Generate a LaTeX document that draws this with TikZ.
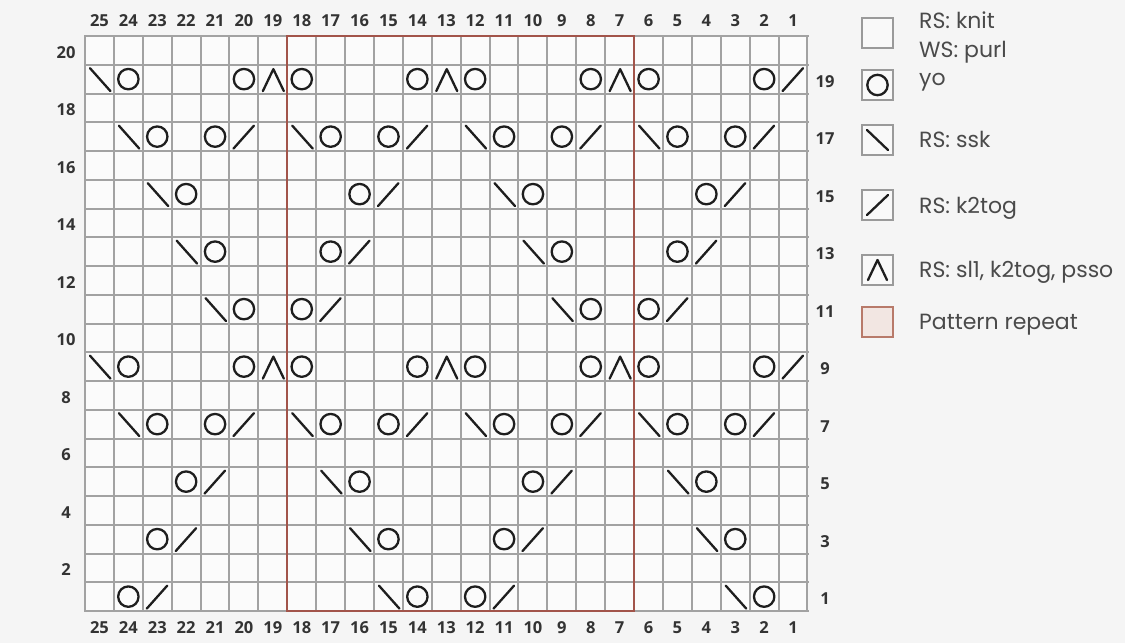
\documentclass[tikz,border=0pt]{standalone}
\usepackage{fontspec}
\setmainfont{Poppins}
\newfontfamily\numfont{Open Sans}
\definecolor{bg}{HTML}{F5F5F5}
\definecolor{gridc}{HTML}{A2A2A2}
\definecolor{symc}{HTML}{1E1E1E}
\definecolor{numc}{HTML}{333333}
\definecolor{repc}{HTML}{A2544A}
\definecolor{legc}{HTML}{9A9A9A}
\definecolor{legrep}{HTML}{B87A6A}
\definecolor{legrepfill}{HTML}{F2E6E2}
\definecolor{txtc}{HTML}{4A4A4A}
\tikzset{
  gridline/.style={draw=gridc, line width=2pt},
  symline/.style={draw=symc, line width=2.3pt, line cap=round, line join=round},
  numlab/.style={text=numc, font=\numfont\bfseries\fontsize{16.5}{16.5}\selectfont, inner sep=0pt},
  legtext/.style={text=txtc, font=\fontsize{22}{22}\selectfont, anchor=base west, inner sep=0pt},
  legbox/.style={draw=legc, line width=1.6pt, fill=bg!60!white},
  pics/yo/.style={code={\draw[symline] (0,0) circle (10.2);}},
  pics/ssk/.style={code={\draw[symline] (-9.5,-11) -- (11,12);}},
  pics/ktog/.style={code={\draw[symline] (-10.5,12) -- (10,-11);}},
  pics/sktog/.style={code={\draw[symline] (-10,12) -- (0.5,-10) -- (11,12);}},
}
\newcommand\cellat[2]{({99.45+(25-#1)*28.9},{625.375-#2*28.75})}
\begin{document}
\begin{tikzpicture}[x=1pt,y=-1pt]
\useasboundingbox (0,0) rectangle (1125,643);
\fill[bg] (0,0) rectangle (1125,643);
% grid
\fill[white!60!bg] (85,36) rectangle (808,611);
\foreach \i in {0,...,25} {
  \pgfmathsetmacro\gx{round(85+\i*28.9)}
  \draw[gridline] (\gx,35) -- (\gx,612);
}
\foreach \j in {0,...,20} {
  \pgfmathsetmacro\gy{round(36+\j*28.75)}
  \draw[gridline] (84,\gy) -- (809,\gy);
}
% pattern repeat
\draw[draw=repc, line width=2pt] (287,36) rectangle (634,611);
% column numbers
\foreach \c in {1,...,25} {
  \node[numlab] (top\c) at ({99.45+(25-\c)*28.9},20.5) {\c};
  \node[numlab] (bot\c) at ({99.45+(25-\c)*28.9},628) {\c};
}
\foreach \r in {2,4,...,20} \node[numlab] (left\r) at (66,{627.5-\r*28.75}) {\r};
\foreach \r in {1,3,...,19} \node[numlab] (right\r) at (825,{627.5-\r*28.75}) {\r};
% symbols
\foreach \c/\r in {24/19,20/19,18/19,14/19,12/19,8/19,6/19,2/19,
  24/9,20/9,18/9,14/9,12/9,8/9,6/9,2/9,
  23/17,21/17,17/17,15/17,11/17,9/17,5/17,3/17,
  23/7,21/7,17/7,15/7,11/7,9/7,5/7,3/7,
  22/15,16/15,10/15,4/15,
  21/13,17/13,9/13,5/13,
  20/11,18/11,8/11,6/11,
  22/5,16/5,10/5,4/5,
  23/3,15/3,11/3,3/3,
  24/1,14/1,12/1,2/1}
  \pic at \cellat{\c}{\r} {yo};
\foreach \c/\r in {25/19,25/9,
  24/17,18/17,12/17,6/17, 24/7,18/7,12/7,6/7,
  23/15,11/15, 22/13,10/13, 21/11,9/11,
  17/5,5/5, 16/3,4/3, 15/1,3/1}
  \pic at \cellat{\c}{\r} {ssk};
\foreach \c/\r in {1/19,1/9,
  20/17,14/17,8/17,2/17, 20/7,14/7,8/7,2/7,
  15/15,3/15, 16/13,4/13, 17/11,5/11,
  21/5,9/5, 22/3,10/3, 23/1,11/1}
  \pic at \cellat{\c}{\r} {ktog};
\foreach \c/\r in {19/19,13/19,7/19,19/9,13/9,7/9}
  \pic at \cellat{\c}{\r} {sktog};
% legend
\draw[legbox] (862,18) rectangle (893,48);
\node[legtext] (l1a) at (919,28) {RS: knit};
\node[legtext] (l1b) at (919,57) {WS: purl};
\draw[legbox] (862,70) rectangle (893,100);
\pic at (877.5,85) {yo};
\node[legtext] (l2) at (919,85) {yo};
\draw[legbox] (862,125) rectangle (893,155);
\draw[symline] (867,130) -- (888,150);
\node[legtext] (l3) at (919,147) {RS: ssk};
\draw[legbox] (862,190) rectangle (893,220);
\draw[symline] (867,215) -- (888,195);
\node[legtext] (l4) at (919,213) {RS: k2tog};
\draw[legbox] (862,255) rectangle (893,285);
\draw[symline] (868,280) -- (877.5,260) -- (887,280);
\node[legtext] (l5) at (919,277) {RS: sl1, k2tog, psso};
\draw[draw=legrep, line width=1.8pt, fill=legrepfill] (862,307) rectangle (893,337);
\node[legtext] (l6) at (919,329) {Pattern repeat};
\end{tikzpicture}
\end{document}
